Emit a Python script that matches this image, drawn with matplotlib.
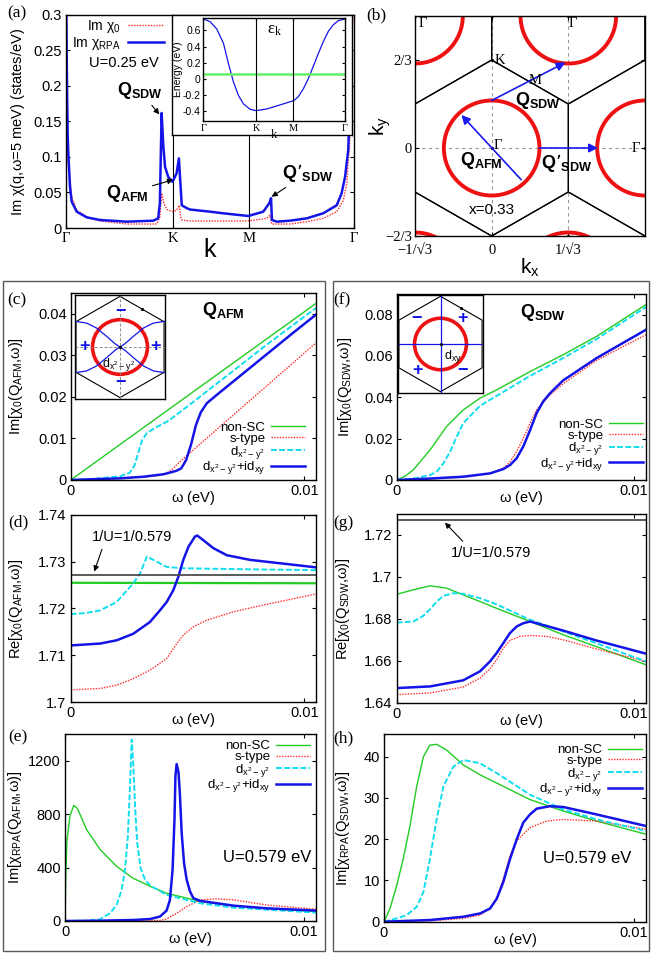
import numpy as np
import matplotlib.pyplot as plt
from matplotlib.patches import Circle, Polygon, Rectangle

plt.rcParams['font.family'] = ['Liberation Sans', 'DejaVu Sans']
plt.rcParams['mathtext.default'] = 'regular'
plt.rcParams['axes.linewidth'] = 1.0

W, H = 652, 961
SERIF = ['Liberation Serif', 'DejaVu Serif']
GREEN, RED, CYAN, BLUE = '#22cc22', '#ff2a2a', '#11ddee', '#1414e6'

# ---------------- panel (a): Im chi along Gamma-K-M-Gamma (path coordinate 0..1)
sym_pos = [0.0, 0.371, 0.636, 1.0]
sym_labels = ['Γ', 'K', 'M', 'Γ']

k_rpa = [0, 0.0035, 0.0059, 0.008, 0.0139, 0.0198, 0.0372, 0.0719, 0.118, 0.211,
         0.303, 0.320, 0.326, 0.330, 0.332, 0.338, 0.344, 0.355, 0.370, 0.384,
         0.392, 0.398, 0.402, 0.419, 0.431, 0.5, 0.546, 0.633, 0.685, 0.706,
         0.712, 0.715, 0.732, 0.778, 0.836, 0.893, 0.940, 0.957, 0.969, 0.980,
         0.988, 0.993, 1.0]
im_rpa = [0.35, 0.20, 0.13, 0.105, 0.058, 0.037, 0.023, 0.015, 0.0113, 0.0089,
          0.0103, 0.0136, 0.035, 0.12, 0.162, 0.115, 0.086, 0.072, 0.065, 0.077,
          0.098, 0.058, 0.032, 0.028, 0.026, 0.023, 0.0207, 0.0169, 0.023, 0.035,
          0.042, 0.0113, 0.0089, 0.0103, 0.0136, 0.0207, 0.032, 0.049, 0.072, 0.11,
          0.2, 0.32, 0.35]
k_chi0 = [0, 0.0059, 0.0139, 0.0198, 0.0372, 0.0719, 0.118, 0.211, 0.315, 0.326,
          0.332, 0.340, 0.350, 0.370, 0.384, 0.393, 0.398, 0.402, 0.431, 0.546,
          0.633, 0.697, 0.708, 0.714, 0.778, 0.836, 0.893, 0.940, 0.963, 0.975,
          0.980, 0.984, 0.990, 0.997]
im_chi0 = [0.12, 0.1, 0.068, 0.044, 0.025, 0.016, 0.0099, 0.0056, 0.0056, 0.016,
           0.049, 0.035, 0.026, 0.023, 0.025, 0.032, 0.016, 0.0113, 0.0099, 0.0099,
           0.0099, 0.0136, 0.018, 0.0056, 0.0056, 0.0089, 0.0136, 0.023, 0.039, 0.063,
           0.096, 0.11, 0.2, 0.32]
a_yticks = [0, 0.05, 0.1, 0.15, 0.2, 0.25, 0.3]

# inset: band dispersion
k_band = [0, 0.047, 0.094, 0.141, 0.176, 0.212, 0.247, 0.282, 0.329, 0.372, 0.447,
          0.541, 0.640, 0.671, 0.706, 0.741, 0.776, 0.812, 0.847, 0.882, 0.918,
          0.953, 1.0]
e_band = [0.742, 0.708, 0.617, 0.442, 0.192, -0.038, -0.204, -0.308, -0.375, -0.392,
          -0.371, -0.321, -0.267, -0.217, -0.121, 0.004, 0.158, 0.317, 0.462, 0.588,
          0.671, 0.721, 0.742]
fermi_level = 0.067
band_yticks = [-0.4, -0.2, 0, 0.2, 0.4, 0.6]

# ---------------- panel (b): Fermi surface in the extended zone
kF = 0.36
b1 = (2 / np.sqrt(3), 0.0)
b2 = (1 / np.sqrt(3), 1.0)
bz_kx = [0, 1 / np.sqrt(3), 1 / np.sqrt(3), 0, -1 / np.sqrt(3), -1 / np.sqrt(3)]
bz_ky = [2 / 3, 1 / 3, -1 / 3, -2 / 3, -1 / 3, 1 / 3]
q_sdw = ((0.0, 0.36), (0.555, 0.648))
q_afm = ((0.222, -0.24), (-0.228, 0.25))
q_sdw2 = ((0.36, 0.0), (0.80, 0.0))

# gap nodes used in the small insets
node_x = [-0.6, -0.577, -0.4375, -0.306, -0.175, -0.066, 0, 0.066, 0.175, 0.306, 0.4375, 0.577, 0.6]
node_y = [0.338, 0.337, 0.315, 0.249, 0.14, 0.044, 0, -0.044, -0.14, -0.249, -0.315, -0.337, -0.338]

# ---------------- panels (c)-(h): omega in meV
w_c = {'nsc': [0, 10.5],
       's': [0, 2.1, 3.68, 4.1, 4.31, 4.73, 6.3, 8.4, 10.5],
       'd': [0, 1.05, 2.1, 2.52, 2.73, 2.89, 3.05, 3.26, 3.57, 4.2, 5.25, 6.3, 7.35, 8.4, 9.45, 10.5],
       'did': [0, 2.1, 3.15, 3.99, 4.52, 4.73, 4.94, 5.15, 5.36, 5.57, 5.83, 6.3, 7.35, 8.4, 9.45, 10.5]}
v_c = {'nsc': [0, 0.0425],
       's': [0, 0.0004, 0.0010, 0.0016, 0.0024, 0.0047, 0.0124, 0.0227, 0.033],
       'd': [0, 0.0003, 0.0009, 0.0017, 0.0035, 0.0065, 0.0095, 0.0113, 0.0124, 0.0143, 0.0188,
             0.0234, 0.028, 0.0326, 0.037, 0.0414],
       'did': [0, 0.0004, 0.0008, 0.0014, 0.0022, 0.0028, 0.0048, 0.0085, 0.0132, 0.0163, 0.0185,
               0.0207, 0.0255, 0.0303, 0.0351, 0.0398]}

w_d = {'nsc': [0, 10.5],
       's': [0, 1.26, 1.97, 2.68, 3.39, 4.11, 4.54, 4.82, 5.25, 5.82, 6.96, 8.39, 10.5],
       'd': [0, 0.6, 1.26, 1.97, 2.68, 2.97, 3.26, 3.54, 4.1, 4.83, 7.35, 10.5],
       'did': [0, 1.26, 1.97, 2.68, 3.39, 3.82, 4.11, 4.39, 4.61, 4.82, 5.04, 5.32, 5.42, 5.68,
               6.11, 6.68, 7.68, 9.1, 10.5]}
v_d = {'nsc': [1.7255, 1.7254],
       's': [1.7026, 1.7029, 1.7036, 1.7050, 1.7068, 1.7093, 1.7125, 1.7143, 1.7161, 1.7175,
             1.7193, 1.7209, 1.7231],
       'd': [1.7188, 1.7190, 1.7196, 1.7214, 1.7254, 1.7275, 1.7311, 1.7304, 1.7289, 1.7286,
             1.7284, 1.7282],
       'did': [1.7121, 1.7125, 1.7132, 1.7146, 1.7171, 1.7196, 1.7214, 1.7239, 1.7268, 1.7304,
               1.7332, 1.7354, 1.7356, 1.7346, 1.7329, 1.7314, 1.7304, 1.7296, 1.7288]}
inv_U = 1 / 0.579

w_e = {'nsc': [0, 0.03, 0.08, 0.21, 0.37, 0.53, 0.9, 1.47, 2.16, 2.84, 3.57, 4.25, 5.67, 7.04, 8.4, 10.5],
       's': [0, 3.97, 4.25, 4.67, 5.09, 5.65, 6.34, 7.05, 8.43, 10.5],
       'd': [0, 0.9, 1.46, 1.88, 2.16, 2.37, 2.51, 2.63, 2.72, 2.79, 2.86, 2.93, 3.02, 3.16,
             3.35, 3.56, 4.25, 5.65, 7.05, 10.5],
       'did': [0, 1.46, 2.86, 3.56, 3.97, 4.25, 4.39, 4.5, 4.58, 4.62, 4.67, 4.75, 4.81, 4.88,
               4.98, 5.09, 5.23, 5.37, 5.65, 7.05, 8.43, 10.5]}
v_e = {'nsc': [0, 300, 600, 790, 866, 840, 685, 535, 409, 321, 259, 208, 146, 113, 95, 70],
       's': [0, 5, 15, 58, 108, 158, 166, 158, 120, 88],
       'd': [0, 2.5, 12.6, 57.7, 120, 233, 384, 635, 1012, 1358, 1163, 861, 585, 397, 309, 266,
             196, 133, 100, 63],
       'did': [0, 2.5, 7.5, 15, 33, 78, 158, 384, 761, 1087, 1175, 1112, 936, 660, 434, 309,
               221, 171, 151, 115, 95, 78]}

w_f = {'nsc': [0, 0.35, 0.7, 1.41, 2.1, 2.8, 3.51, 4.21, 5.62, 7.01, 8.42, 10.5],
       's': [0, 2.8, 3.93, 4.49, 4.78, 5.05, 5.33, 5.62, 5.89, 6.46, 7.01, 8.42, 10.5],
       'd': [0, 0.7, 1.41, 1.68, 1.97, 2.25, 2.53, 2.8, 3.51, 4.21, 5.62, 7.01, 8.42, 10.5],
       'did': [0, 1.41, 2.8, 3.93, 4.49, 4.78, 5.05, 5.33, 5.62, 5.89, 6.17, 6.46, 7.01, 8.42, 10.5]}
v_f = {'nsc': [0, 0.0018, 0.0049, 0.0146, 0.0259, 0.0339, 0.0396, 0.0436, 0.0525, 0.0606,
               0.0695, 0.0849],
       's': [0, 0.0013, 0.0031, 0.0057, 0.0089, 0.0137, 0.0202, 0.0275, 0.0339, 0.0412, 0.0466,
             0.0579, 0.0703],
       'd': [0, 0.0007, 0.0024, 0.0040, 0.0081, 0.0137, 0.0210, 0.0275, 0.0359, 0.0407, 0.0504,
             0.0590, 0.0682, 0.0837],
       'did': [0, 0.0007, 0.0016, 0.0032, 0.0053, 0.0073, 0.0105, 0.0162, 0.0242, 0.0323, 0.0380,
               0.0420, 0.0482, 0.0590, 0.0727]}

w_g = {'nsc': [0, 0.7, 1.41, 2.1, 2.8, 3.51, 4.2, 5.62, 7.01, 8.4, 10.5],
       's': [0, 1.41, 2.8, 3.51, 3.93, 4.21, 4.49, 4.77, 5.19, 5.62, 6.32, 7.01, 8.42, 10.5],
       'd': [0, 0.7, 1.12, 1.41, 1.68, 1.97, 2.38, 2.8, 3.51, 4.2, 5.62, 7.01, 8.4, 10.5],
       'did': [0, 1.41, 2.8, 3.51, 3.93, 4.21, 4.49, 4.77, 5.05, 5.33, 5.62, 7.01, 8.4, 10.5]}
v_g = {'nsc': [1.6918, 1.6939, 1.6958, 1.6947, 1.6915, 1.6883, 1.6851, 1.6788, 1.6725, 1.6669, 1.6582],
       's': [1.6440, 1.6448, 1.6476, 1.6519, 1.6562, 1.6606, 1.6661, 1.6698, 1.6717, 1.6722,
             1.6717, 1.6701, 1.6657, 1.6598],
       'd': [1.6783, 1.6788, 1.6815, 1.6847, 1.6883, 1.6910, 1.6923, 1.6920, 1.6899, 1.6870,
             1.6796, 1.6741, 1.6685, 1.6598],
       'did': [1.6471, 1.6479, 1.6508, 1.6551, 1.6598, 1.6638, 1.6685, 1.6733, 1.6764, 1.6780,
               1.6788, 1.6745, 1.6698, 1.6635]}

w_h = {'nsc': [0, 0.24, 0.51, 0.77, 1.04, 1.31, 1.58, 1.84, 2.11, 2.51, 3.18, 3.85, 4.52, 5.85,
               7.19, 8.52, 10.5],
       's': [0, 1.84, 3.18, 3.85, 4.25, 4.52, 4.78, 5.05, 5.32, 5.85, 6.52, 7.19, 8.52, 10.5],
       'd': [0, 0.51, 0.91, 1.31, 1.58, 1.84, 2.11, 2.38, 2.78, 3.18, 3.85, 4.52, 5.85, 7.19, 8.52, 10.5],
       'did': [0, 1.84, 3.18, 3.85, 4.25, 4.52, 4.78, 5.05, 5.32, 5.58, 5.85, 6.12, 6.65, 7.19, 8.52, 10.5]}
v_h = {'nsc': [0, 3.2, 8.8, 15.2, 23.2, 32.8, 40, 42.8, 43.0, 41.6, 38, 35.6, 33.6, 29.6, 26.8, 24.4, 21.2],
       's': [0, 0.2, 0.8, 1.6, 3.2, 5.6, 10.4, 16, 19.6, 22.8, 24.4, 24.8, 24.4, 22.4],
       'd': [0, 0.8, 1.6, 3.6, 7.2, 15.2, 24.8, 32.8, 37.6, 39.2, 38.4, 36, 30.8, 27.2, 24.8, 22],
       'did': [0, 0.4, 1.2, 2, 3.2, 5.6, 9.6, 15.2, 20, 24, 26, 27.4, 28, 27.8, 26, 23.2]}

series = ['nsc', 's', 'd', 'did']
series_labels = {'nsc': 'non-SC', 's': 's-type', 'd': r'd$_{x^2-y^2}$', 'did': r'd$_{x^2-y^2}$+id$_{xy}$'}
styles = {'nsc': dict(color=GREEN, lw=1.0),
          's': dict(color=RED, lw=1.0, ls=(0, (1, 1))),
          'd': dict(color=CYAN, lw=1.4, ls=(0, (3, 1.2))),
          'did': dict(color=BLUE, lw=1.8)}

fig = plt.figure(figsize=(W / 100, H / 100), dpi=100)


def px_axes(x0, y0, x1, y1, **kw):
    return fig.add_axes([x0 / W, 1 - y1 / H, (x1 - x0) / W, (y1 - y0) / H], **kw)


def ticks_in(ax, size=10):
    ax.tick_params(direction='in', length=3, width=0.8, top=True, right=True,
                   labelsize=size, pad=3)


def panel_label(s, x, y):
    fig.text(x / W, 1 - y / H, s, fontfamily=SERIF, fontsize=12.5, ha='center', va='center')


# ======================= (a)
ax = px_axes(66, 15, 354, 228)
ax.plot(k_chi0, im_chi0, color=RED, lw=1.0, ls=(0, (1, 1)), label=r'Im $\chi_0$')
ax.plot(k_rpa, im_rpa, color=BLUE, lw=1.8, label=r'Im $\chi_{RPA}$')
for x in sym_pos[1:3]:
    ax.axvline(x, color='k', lw=0.8, zorder=1)
ax.set_xlim(0, 1)
ax.set_ylim(0, 0.3)
ax.set_xticks(sym_pos)
ax.set_xticklabels(sym_labels, fontfamily=SERIF, fontsize=12)
ax.set_yticks(a_yticks)
ax.set_yticklabels(['%g' % t for t in a_yticks])
ticks_in(ax, 10.5)
ax.set_xlabel('k', fontsize=18, va='center')
ax.xaxis.set_label_coords(0.5, -0.105)
ax.set_ylabel(r'Im $\chi$(q,$\omega$=5 meV) (states/eV)', fontsize=10.5, va='center')
ax.yaxis.set_label_coords(-0.165, 0.5)
ax.legend(loc='upper right', bbox_to_anchor=(0.35, 1.0), markerfirst=False, frameon=False,
          fontsize=10, handlelength=2.6, handletextpad=0.5, labelspacing=0.0,
          borderpad=0.2, borderaxespad=0.0)
ax.text(0.2, 0.232, 'U=0.25 eV', fontsize=10.5, ha='center', va='center')
arrow_k = dict(arrowstyle='-|>', color='k', lw=0.8, mutation_scale=8, shrinkA=1, shrinkB=0)
ax.annotate(r'Q$_{SDW}$', xy=(0.324, 0.160), xytext=(0.257, 0.193), fontsize=13,
            fontweight='bold', ha='center', va='center', arrowprops=arrow_k)
ax.annotate(r'Q$_{AFM}$', xy=(0.372, 0.068), xytext=(0.212, 0.049), fontsize=13,
            fontweight='bold', ha='center', va='center', arrowprops=arrow_k)
ax.annotate('Q’$_{SDW}$', xy=(0.714, 0.044), xytext=(0.84, 0.0775), fontsize=13,
            fontweight='bold', ha='center', va='center', arrowprops=arrow_k)
panel_label('(a)', 17, 13)

box = px_axes(172, 15, 352, 135, zorder=3)
box.set_xticks([])
box.set_yticks([])
ins = px_axes(203.5, 17.5, 345, 121, zorder=4)
ins.plot(k_band, e_band, color=BLUE, lw=0.9)
ins.axhline(fermi_level, color='#66ee66', lw=1.8)
for x in sym_pos[1:3]:
    ins.axvline(x, color='k', lw=0.8)
ins.set_xlim(0, 1)
ins.set_ylim(-0.52, 0.76)
ins.set_xticks(sym_pos)
ins.set_xticklabels(sym_labels, fontfamily=SERIF, fontsize=8)
ins.set_yticks(band_yticks)
ins.set_yticklabels(['%g' % t for t in band_yticks])
ins.tick_params(direction='in', length=2, labelsize=7.5, pad=2, right=True, top=True)
ins.set_ylabel('Energy (eV)', fontsize=7.5, labelpad=0)
ins.set_xlabel('k', fontfamily=SERIF, fontsize=9, labelpad=-3)
ins.text(0.505, 0.88, r'ε$_k$', fontfamily=SERIF, fontsize=12, ha='center', va='center',
         transform=ins.transAxes)

# ======================= (b)
axb = px_axes(415, 16, 645, 236)
s3 = np.sqrt(3)
for g in [0, 1 / s3]:
    axb.axvline(g, color='0.6', lw=0.8, ls=(0, (3, 3)), zorder=0.5)
axb.axhline(0, color='0.6', lw=0.8, ls=(0, (3, 3)), zorder=0.5)
gammas = []
for n in range(-2, 3):
    for m in range(-2, 3):
        cx = n * b1[0] + m * b2[0]
        cy = n * b1[1] + m * b2[1]
        gammas.append((cx, cy))
        axb.add_patch(Polygon(np.column_stack([np.add(bz_kx, cx), np.add(bz_ky, cy)]),
                              closed=True, fill=False, ec='k', lw=0.9, zorder=1))
        axb.add_patch(Circle((cx, cy), kF, fill=False, ec='#ee1111', lw=2.8, zorder=2))
gx, gy = zip(*gammas)
axb.plot(gx, gy, 'k.', ms=2.5, zorder=3)
axb.plot([0, 2 / s3, 0, 1 / s3, 0], [2 / 3, 2 / 3, -2 / 3, -2 / 3, 1.0], 'k.', ms=2.5, zorder=3)
arrow_b = dict(arrowstyle='-|>', color='#1a1aee', lw=1.2, mutation_scale=13, shrinkA=0, shrinkB=0)
for tail, head in [q_sdw, q_afm, q_sdw2]:
    axb.annotate('', xy=head, xytext=tail, arrowprops=arrow_b, zorder=4)
axb.set_xlim(-1 / s3, 2 / s3)
axb.set_ylim(-2 / 3, 1.0)
axb.set_xticks([-1 / s3, 0, 1 / s3])
axb.set_xticklabels(['−1/√3', '0', '1/√3'], fontfamily=SERIF, fontsize=10.5)
axb.set_yticks([-2 / 3, 0, 2 / 3])
axb.set_yticklabels(['−2/3', '0', '2/3'], fontfamily=SERIF, fontsize=10.5)
axb.tick_params(direction='in', length=3, top=True, right=True, pad=2)
axb.tick_params(axis='x', pad=6)
axb.set_xlabel('k$_x$', fontsize=15, va='center')
axb.xaxis.set_label_coords(0.5, -0.145)
axb.set_ylabel('k$_y$', fontsize=15, va='center')
axb.yaxis.set_label_coords(-0.15, 0.5)
for s, x, y in [('Γ', -0.517, 0.94), ('Γ', 0.61, 0.94), ('K', 0.062, 0.666),
                ('M', 0.326, 0.513), ('Γ', 0.047, 0.018), ('Γ', 1.086, 0.0)]:
    axb.text(x, y, s, fontfamily=SERIF, fontsize=10.5, ha='center', va='center', zorder=5)
axb.text(0.35, 0.36, r'Q$_{SDW}$', fontsize=13, fontweight='bold', ha='center', va='center')
axb.text(-0.08, -0.097, r'Q$_{AFM}$', fontsize=13, fontweight='bold', ha='center', va='center')
axb.text(0.565, -0.11, 'Q’$_{SDW}$', fontsize=13, fontweight='bold', ha='center', va='center')
axb.text(0.0, -0.47, 'x=0.33', fontsize=11, ha='center', va='center')
panel_label('(b)', 376, 15)

# ======================= lower frames
for x0, x1 in [(3, 325), (333, 649)]:
    fig.add_artist(Rectangle((x0 / W, 1 - 951 / H), (x1 - x0) / W, (951 - 281) / H,
                             transform=fig.transFigure, fill=False, ec='0.35', lw=1.0))


def omega_panel(rect, w, v, ylim, yticks, ylabel, ylab_x):
    a = px_axes(*rect)
    for key in series:
        a.plot(np.array(w[key]) * 1e-3, v[key], label=series_labels[key], **styles[key])
    a.set_xlim(0, 0.0105)
    a.set_ylim(*ylim)
    a.set_xticks([0, 0.01])
    a.set_xticklabels(['0', '0.01'])
    a.set_yticks(yticks)
    a.set_yticklabels(['%g' % t for t in yticks])
    ticks_in(a, 10.5)
    a.set_xlabel(r'$\omega$ (eV)', fontsize=10.5, va='center')
    a.xaxis.set_label_coords(0.5, -0.097)
    a.set_ylabel(ylabel, fontsize=10.5, va='center')
    a.yaxis.set_label_coords(ylab_x, 0.5)
    return a


def omega_legend(a, loc, anchor):
    a.legend(loc=loc, bbox_to_anchor=anchor, markerfirst=False, frameon=False, fontsize=9.5,
             handlelength=2.6, handletextpad=0.4, labelspacing=-0.1, borderpad=0,
             borderaxespad=0)


def gap_inset(rect, kind):
    a = px_axes(*rect, zorder=3)
    a.set_xticks([])
    a.set_yticks([])
    a.add_patch(Polygon(np.column_stack([bz_kx, bz_ky]), closed=True, fill=False, ec='k', lw=0.8))
    if kind == 'dx2':
        a.axhline(0, color='0.55', lw=0.7, ls=(0, (3, 2)))
        a.axvline(0, color='0.55', lw=0.7, ls=(0, (3, 2)))
        a.plot(node_x, node_y, color=BLUE, lw=0.9)
        a.plot(node_x, np.negative(node_y), color=BLUE, lw=0.9)
        signs = [('−', 0, 0.47), ('−', 0, -0.47), ('+', -0.46, 0), ('+', 0.46, 0)]
        a.text(-0.02, -0.23, r'd$_{x^2-y^2}$', fontsize=9, ha='center', va='center')
    else:
        a.axhline(0, color=BLUE, lw=0.9)
        a.axvline(0, color=BLUE, lw=0.9)
        signs = [('−', -0.33, 0.35), ('+', 0.30, 0.35), ('+', -0.32, -0.37), ('−', 0.30, -0.37)]
        a.text(0.17, -0.18, r'd$_{xy}$', fontsize=9, ha='center', va='center')
    a.add_patch(Circle((0, 0), kF, fill=False, ec='#ee1111', lw=2.6))
    a.plot([0, 0.289], [0, 0.5], 'k.', ms=2.5)
    for s, x, y in signs:
        a.text(x, y, s, color=BLUE, fontsize=13, fontweight='bold', ha='center', va='center')
    a.set_xlim(-0.59, 0.59)
    a.set_ylim(-0.685, 0.685)
    return a


# ======================= (c)
ac = omega_panel((70.7, 293, 316, 480), w_c, v_c, (0, 0.045), [0, 0.01, 0.02, 0.03, 0.04],
                 r'Im[$\chi_0$(Q$_{AFM}$,$\omega$)]', -0.222)
omega_legend(ac, 'lower right', (0.955, 0.02))
ac.text(0.621, 0.909, r'Q$_{AFM}$', fontsize=13, fontweight='bold', ha='center', va='center',
        transform=ac.transAxes)
gap_inset((75, 295, 165, 399), 'dx2')
panel_label('(c)', 17, 300)

# ======================= (d)
ad = omega_panel((70.7, 515, 316, 702), w_d, v_d, (1.70, 1.74), [1.70, 1.71, 1.72, 1.73, 1.74],
                 r'Re[$\chi_0$(Q$_{AFM}$,$\omega$)]', -0.222)
ad.lines[0].set_linewidth(1.6)
ad.axhline(inv_U, color='0.3', lw=1.3)
ad.annotate('1/U=1/0.579', xy=(0.00101, 1.7279), xytext=(0.00262, 1.7353), fontsize=10.5,
            ha='center', va='center',
            arrowprops=dict(arrowstyle='-|>', color='k', lw=0.8, mutation_scale=8,
                            relpos=(0.15, 0.0), shrinkA=2, shrinkB=0))
panel_label('(d)', 18, 522)

# ======================= (e)
ae = omega_panel((65, 734, 316, 921), w_e, v_e, (0, 1400), [0, 400, 800, 1200],
                 r'Im[$\chi_{RPA}$(Q$_{AFM}$,$\omega$)]', -0.2)
omega_legend(ae, 'upper right', (0.976, 0.968))
ae.text(0.805, 0.342, 'U=0.579 eV', fontsize=12, ha='center', va='center', transform=ae.transAxes)
panel_label('(e)', 18, 737)

# ======================= (f)
af = omega_panel((396.7, 294, 646, 480), w_f, v_f, (0, 0.09), [0, 0.02, 0.04, 0.06, 0.08],
                 r'Im[$\chi_0$(Q$_{SDW}$,$\omega$)]', -0.207)
omega_legend(af, 'lower right', (0.988, 0.038))
af.text(0.587, 0.903, r'Q$_{SDW}$', fontsize=13, fontweight='bold', ha='center', va='center',
        transform=af.transAxes)
gap_inset((398, 295, 483, 393), 'dxy')
panel_label('(f)', 342, 300)

# ======================= (g)
ag = omega_panel((396.7, 514, 646, 703), w_g, v_g, (1.64, 1.73), [1.64, 1.66, 1.68, 1.70, 1.72],
                 r'Re[$\chi_0$(Q$_{SDW}$,$\omega$)]', -0.214)
ag.axhline(inv_U, color='0.3', lw=1.3)
ag.annotate('1/U=1/0.579', xy=(0.00203, 1.7259), xytext=(0.00399, 1.7114), fontsize=10.5,
            ha='center', va='center',
            arrowprops=dict(arrowstyle='-|>', color='k', lw=0.8, mutation_scale=8,
                            relpos=(0.2, 1.0), shrinkA=2, shrinkB=0))
panel_label('(g)', 343, 523)

# ======================= (h)
ah = omega_panel((384, 734, 646, 921.7), w_h, v_h, (0, 45.5), [0, 10, 20, 30, 40],
                 r'Im[$\chi_{RPA}$(Q$_{SDW}$,$\omega$)]', -0.155)
omega_legend(ah, 'upper right', (0.985, 0.947))
ah.text(0.777, 0.339, 'U=0.579 eV', fontsize=12, ha='center', va='center', transform=ah.transAxes)
panel_label('(h)', 343, 738)

fig.savefig('out.png', dpi=100)
